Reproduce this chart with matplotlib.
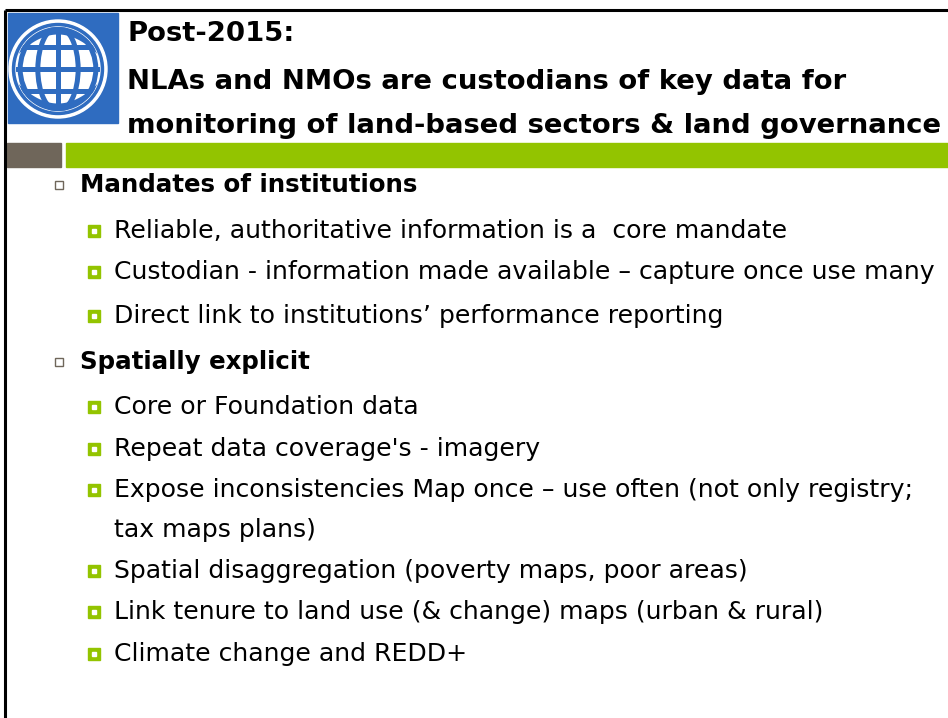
import math
import numpy as np
import matplotlib
matplotlib.use("Agg")
import matplotlib.pyplot as plt
from matplotlib.patches import Rectangle, Circle, Ellipse

W, H = 948, 718
title_lines = ["Post-2015:",
               "NLAs and NMOs are custodians of key data for",
               "monitoring of land-based sectors & land governance"]
title_y = [34, 82, 126]

levels = [1, 2, 2, 2, 1, 2, 2, 2, 3, 2, 2, 2]
texts = [
    "Mandates of institutions",
    "Reliable, authoritative information is a  core mandate",
    "Custodian - information made available \u2013 capture once use many",
    "Direct link to institutions\u2019 performance reporting",
    "Spatially explicit",
    "Core or Foundation data",
    "Repeat data coverage's - imagery",
    "Expose inconsistencies Map once \u2013 use often (not only registry;",
    "tax maps plans)",
    "Spatial disaggregation (poverty maps, poor areas)",
    "Link tenure to land use (& change) maps (urban & rural)",
    "Climate change and REDD+",
]
line_y = [185, 231, 272, 316, 362, 407, 449, 490, 530, 571, 612, 654]

GREEN = "#93c400"
GRAY = "#6f665a"
BLUE = "#2f6cc0"
FONT = "DejaVu Sans"

fig = plt.figure(figsize=(W / 100, H / 100), dpi=100)
ax = fig.add_axes([0, 0, 1, 1])
ax.set_xlim(0, W)
ax.set_ylim(H, 0)
ax.axis("off")
fig.canvas.draw()
renderer = fig.canvas.get_renderer()


def fit_size(s, target_w, weight, base=15):
    t = ax.text(0, 0, s, fontsize=base, fontweight=weight, family=FONT)
    w = t.get_window_extent(renderer=renderer).width
    t.remove()
    return base * target_w / w


title_fs = fit_size(title_lines[2], 818, "bold")
l1_fs = fit_size(texts[0], 340, "bold")
l2_fs = fit_size(texts[2], 820, "normal")

# borders
ax.plot([5, 5], [10, H], color="black", lw=2.2, solid_capstyle="butt")
ax.plot([5, W], [10, 10], color="black", lw=2.2, solid_capstyle="butt")

# logo
ax.add_patch(Rectangle((8, 13), 110, 110, color=BLUE))
cx, cy, R = 58, 69, 49
Rg = 42
lw = 3.6
ax.add_patch(Circle((cx, cy), R, color="white"))
ax.add_patch(Circle((cx, cy), R - 3.5, color=BLUE))
ax.add_patch(Circle((cx, cy), Rg, color="white"))
clip = Circle((cx, cy), Rg, transform=ax.transData)
arts = []
arts += ax.plot([cx, cx], [cy - Rg, cy + Rg], color=BLUE, lw=lw)
for f in [0.48, 0.9]:
    e = Ellipse((cx, cy), 2 * Rg * f, 2 * Rg, fill=False, edgecolor=BLUE, lw=lw)
    ax.add_patch(e)
    arts.append(e)
for dy in [-22, 0, 22]:
    arts += ax.plot([cx - Rg, cx + Rg], [cy + dy, cy + dy], color=BLUE, lw=lw)
xs = np.linspace(cx - Rg, cx + Rg, 100)
for sgn in [-1, 1]:
    ys = cy + sgn * (37 - 0.012 * (xs - cx) ** 2)
    arts += ax.plot(xs, ys, color=BLUE, lw=lw)
for a in arts:
    a.set_clip_path(clip)

# bars
ax.add_patch(Rectangle((7, 143), 54, 24, color=GRAY))
ax.add_patch(Rectangle((66, 143), W - 66, 24, color=GREEN))

# title
for s, y in zip(title_lines, title_y):
    ax.text(127, y, s, fontsize=title_fs, fontweight="bold", family=FONT,
            va="center", ha="left", color="black")

# bullets
for lvl, s, y in zip(levels, texts, line_y):
    if lvl == 1:
        ax.add_patch(Rectangle((55, y - 4), 8, 8, facecolor="white",
                               edgecolor=GRAY, lw=1))
        ax.text(80, y, s, fontsize=l1_fs, fontweight="bold", family=FONT,
                va="center", ha="left", color="black")
    else:
        if lvl == 2:
            ax.add_patch(Rectangle((88, y - 6), 12, 12, color=GREEN))
            ax.add_patch(Rectangle((92, y - 2), 4, 4, color="white"))
        ax.text(114, y, s, fontsize=l2_fs, fontweight="normal", family=FONT,
                va="center", ha="left", color="black")

fig.savefig("out.png", dpi=100)
